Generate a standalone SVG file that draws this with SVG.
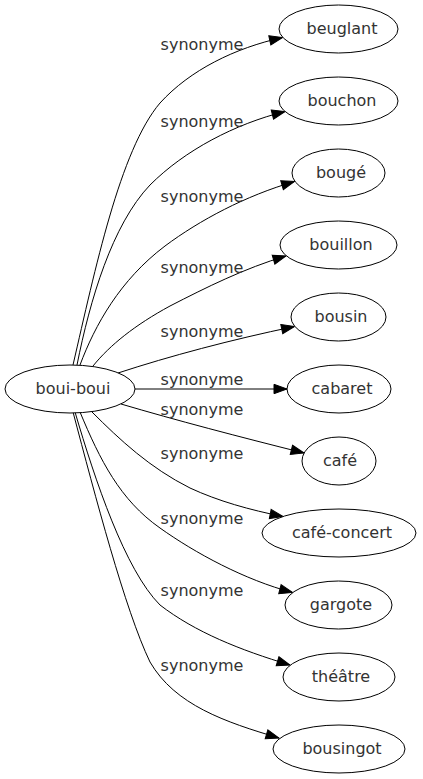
<svg xmlns="http://www.w3.org/2000/svg" width="423" height="779" viewBox="0 0 423 779">
<style>
.node ellipse{fill:#fff;stroke:#000;stroke-width:1}
.node text{font-family:"DejaVu Sans",sans-serif;font-size:16px;fill:#333;text-anchor:middle}
.edges path{fill:none;stroke:#000;stroke-width:1}
.lbl{font-family:"DejaVu Sans",sans-serif;font-size:16px;fill:#333;text-anchor:middle}
</style>
<defs>
<marker id="arr" markerUnits="userSpaceOnUse" markerWidth="14" markerHeight="10" refX="13" refY="4.7" orient="auto" overflow="visible">
<path d="M0,0 L13,4.7 L0,9.4 Z" fill="#000" stroke="#000" stroke-width="1"/>
</marker>
</defs>
<rect width="423" height="779" fill="#fff"/>
<g class="edges" id="edges">
<path marker-end="url(#arr)" d="M73,365 C95,270 120,150 160,103 C190,70 235,48 282.5,37.5"/>
<path marker-end="url(#arr)" d="M77,365 C90,300 112,225 150,185 C185,150 235,124 285,111.5"/>
<path marker-end="url(#arr)" d="M80,365 C95,325 120,280 165,246 C200,220 245,196 294.5,181.5"/>
<path marker-end="url(#arr)" d="M93,366 C110,345 135,325 170,306 C205,288 245,268 286,256"/>
<path marker-end="url(#arr)" d="M118,373 C170,356 230,340 294.5,326.5"/>
<path marker-end="url(#arr)" d="M135,389 L287,389"/>
<path marker-end="url(#arr)" d="M121,404 C175,420 240,437 304,453"/>
<path marker-end="url(#arr)" d="M92,412 C120,440 150,468 190,488 C218,501 250,510 283,516.5"/>
<path marker-end="url(#arr)" d="M80,412 C100,460 120,500 160,528 C195,553 245,580 292.5,592.5"/>
<path marker-end="url(#arr)" d="M75,412 C95,480 125,570 160,605 C195,632 240,650 290,665"/>
<path marker-end="url(#arr)" d="M73,412 C95,495 125,610 150,662 C175,705 225,722 279,738"/>
<text class="lbl" x="202" y="50">synonyme</text>
<text class="lbl" x="202" y="127">synonyme</text>
<text class="lbl" x="202" y="202">synonyme</text>
<text class="lbl" x="202" y="273">synonyme</text>
<text class="lbl" x="202" y="337">synonyme</text>
<text class="lbl" x="202" y="385">synonyme</text>
<text class="lbl" x="202" y="415">synonyme</text>
<text class="lbl" x="202" y="459">synonyme</text>
<text class="lbl" x="202" y="524">synonyme</text>
<text class="lbl" x="202" y="596">synonyme</text>
<text class="lbl" x="202" y="671">synonyme</text>
</g>
<g class="node" id="boui-boui"><ellipse cx="70" cy="389" rx="65" ry="24"/><text x="73" y="394">boui-boui</text></g>
<g class="node" id="beuglant"><ellipse cx="338.5" cy="29" rx="59.5" ry="24"/><text x="342" y="34">beuglant</text></g>
<g class="node" id="bouchon"><ellipse cx="338.5" cy="101" rx="59.5" ry="24"/><text x="342" y="106">bouchon</text></g>
<g class="node" id="bouge"><ellipse cx="338.5" cy="173" rx="46.5" ry="24"/><text x="341" y="178">bougé</text></g>
<g class="node" id="bouillon"><ellipse cx="338.5" cy="245" rx="58.5" ry="24"/><text x="341" y="250">bouillon</text></g>
<g class="node" id="bousin"><ellipse cx="338.5" cy="317" rx="47.5" ry="24"/><text x="341" y="322">bousin</text></g>
<g class="node" id="cabaret"><ellipse cx="339" cy="389" rx="52" ry="24"/><text x="342" y="394">cabaret</text></g>
<g class="node" id="cafe"><ellipse cx="339" cy="461" rx="37" ry="24"/><text x="340" y="466">café</text></g>
<g class="node" id="cafe-concert"><ellipse cx="339" cy="533" rx="77" ry="24"/><text x="342" y="538">café-concert</text></g>
<g class="node" id="gargote"><ellipse cx="338.5" cy="605" rx="53.5" ry="24"/><text x="341" y="610">gargote</text></g>
<g class="node" id="theatre"><ellipse cx="339" cy="677" rx="56" ry="24"/><text x="341" y="682">théâtre</text></g>
<g class="node" id="bousingot"><ellipse cx="339" cy="749" rx="66" ry="24"/><text x="342" y="754">bousingot</text></g>
</svg>
